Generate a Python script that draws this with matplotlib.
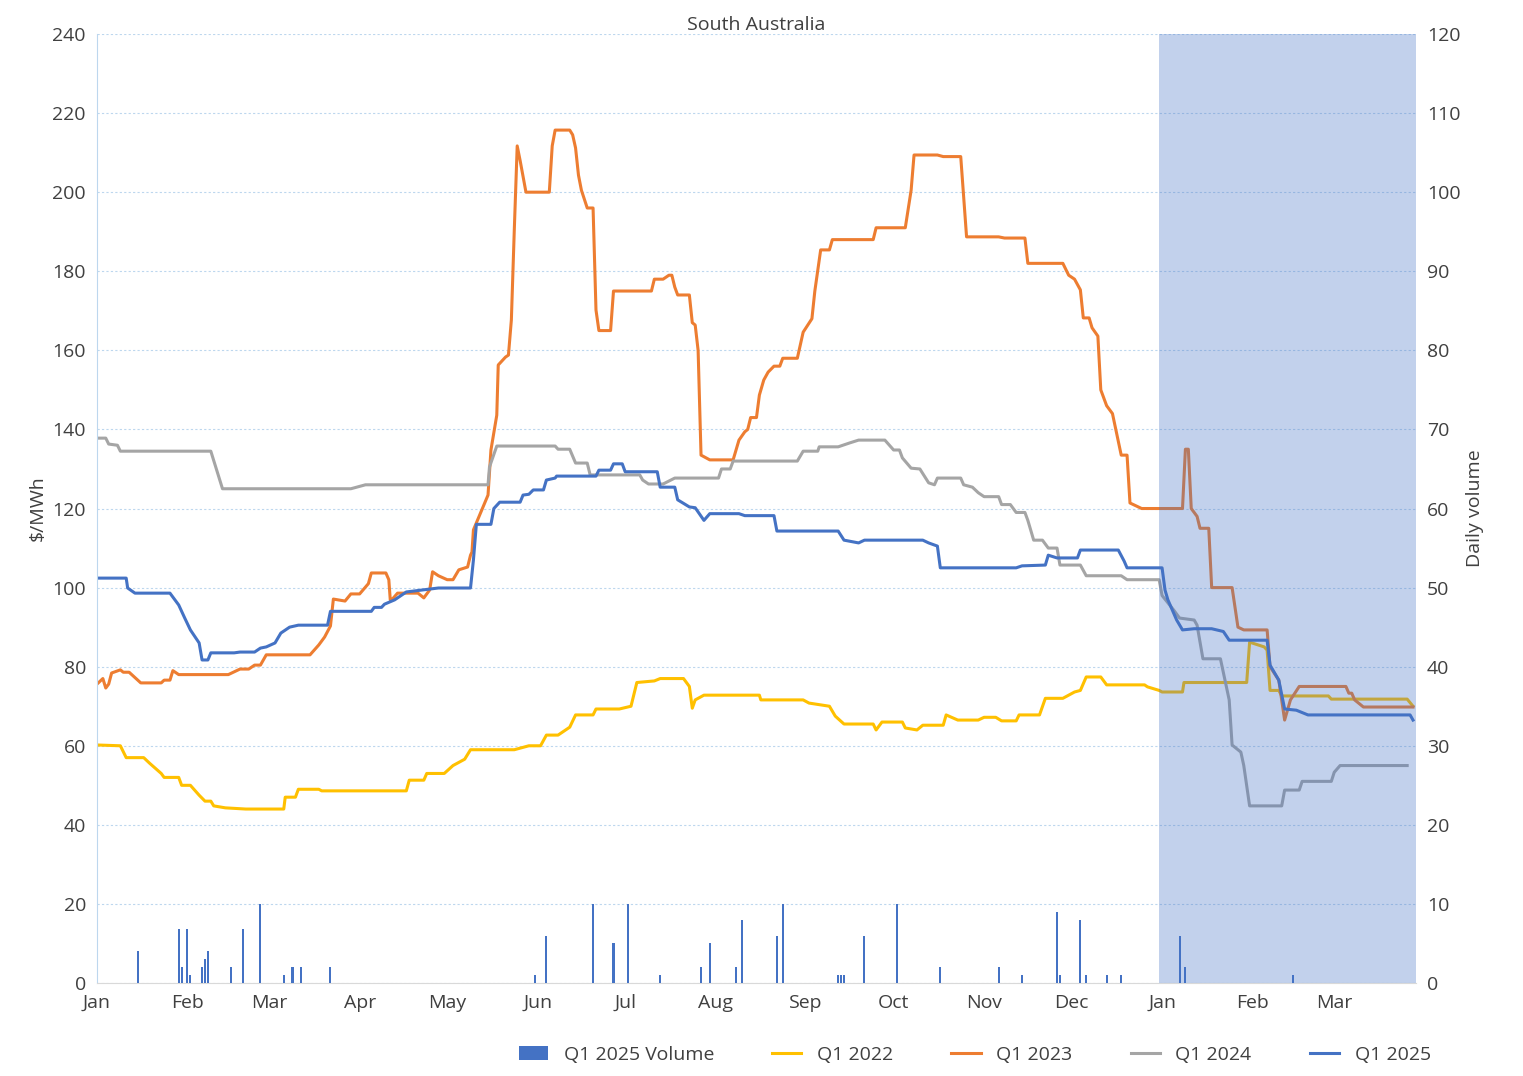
import matplotlib.pyplot as plt
import numpy as np

plt.rcParams['font.family'] = 'Open Sans'

# x in days from Jan 1 (15-month window), y in $/MWh
q22_d = [0,8,10,16,18,22,23,28,29,32,35,37,39,40,44,51,64,64.5,68,69,76,77,106,107,112,113,119,122,126,128,143,148,152,154,158,162,164,170,171,179,183,185,191,193,201,203,204,205,208,227,227.5,242,244,251,253,256,266,267,269,276,277,281,283,290,291,295,302,304,308,310,315,316,323,325,331,335,337,339,344,346,359,360,364,365,372,372.5,394,395,400,401,402,405,406,422,423,449,451]
q22_v = [60.2,60,57,57,55.6,53,52,52,50,50,47.5,46,46,44.8,44.3,44,44,47,47,49,49,48.6,48.6,51.3,51.3,53,53,55,56.6,59,59,60,60,62.7,62.7,64.7,67.8,67.8,69.3,69.3,70,76,76.4,77,77,75,69.5,71.6,72.8,72.8,71.6,71.6,70.8,70,67.5,65.5,65.5,64,66,66,64.5,64,65.2,65.2,67.8,66.5,66.5,67.2,67.2,66.3,66.3,67.8,67.8,72,72,73.6,74,77.4,77.4,75.4,75.4,74.9,74,73.6,73.6,76,76,86.2,85,84.2,74,74,72.6,72.6,71.8,71.8,70]

q23_d = [0,2,3,4,5,8,9,11,15,22,23,25,26,28,45,49,52,54,56,58,73,76,78,80,81,85,87,90,93,94,99,100,100.5,101,103,110,112,114,115,117,120,122,124,127,128,128.5,129,134,135,137,137.5,140,141,142,143,144,145,147,155,156,157,162,163,164,165,166,168,170,171,172,176,177,190,191,194,196,197,198,199,203,204,205,206,207,210,218,220,222,223,224,226,227,228.5,230,232,234,235,240,242,245,246,248,251,252,266,267,277,279,280,288,290,296,298,309,311,318,319,331,333,335,337,338,340,341,343,344,346,348,351,353,354,358,372,373,374,375,377,378,381,382,389,391,393,401,402,405,407,409,412,428,429,430,431,434,451]
q23_v = [75.6,77,74.6,75.6,78.4,79.2,78.6,78.6,75.9,75.9,76.6,76.6,79,78,78,79.4,79.4,80.4,80.4,83,83,85.5,87.5,90.3,97.1,96.6,98.4,98.4,101,103.7,103.7,102,96.9,96.9,98.6,98.6,97.4,99.4,104,103,102,102,104.5,105.2,108.2,109,114.6,123.4,134.8,143.6,156.3,158.3,158.8,167.7,190.4,211.7,208,200,200,211.7,215.7,215.7,214.5,211.2,204.3,200.5,196,196,170.2,165,165,175,175,178,178,179,179,176,174,174,167,166.4,160,133.5,132.3,132.3,137.3,139.4,140,143,143,148.7,152.5,154.5,156,156,158,158,164.6,168,175,185.4,185.4,188,188,191,191,200.5,209.4,209.4,209,209,188.7,188.7,188.4,188.4,182,182,179,178,175.3,168.2,168.2,165.7,163.6,150,146,144,133.5,133.5,121.4,120,120,135,135,120,118,115,115,100,100,90,89.3,89.3,80,76.6,66.5,71.6,75,75,73.3,73.3,71.6,69.8,69.8]

q24_d = [0,3,4,7,8,39,43,87,92,134,134.5,137,157,158,162,164,168,169,186,187,189,194,198,213,214,217,218,240,242,247,247.5,254,258,261,270,273,275,276,279,282,285,287,288,296,297,300,302,304,309,310,313,315,318,319,321,324,326,329,330,337,339,351,353,364,365,369,371,376,377,379,385,388,389,392,393,395,406,407,412,413,423,424,426,449]
q24_v = [137.8,137.8,136.3,136,134.5,134.5,125,125,126,126,130.5,135.8,135.8,135,135,131.5,131.5,128.5,128.5,127.2,126.2,126.2,127.7,127.7,130,130,132,132,134.5,134.5,135.6,135.6,136.6,137.3,137.3,134.8,134.8,132.8,130.2,130,126.5,126,127.7,127.7,126,125.4,124,123,123,121,121,119,119,117,112,112,110,110,105.7,105.7,103,103,102,102,98,94.3,92.3,91.8,90.5,82,82,71.6,60.2,58.4,55,44.8,44.8,48.8,48.8,51,51,53.3,55,55]

q25_d = [0,10,10.5,13,25,28,30,32,35,36,38,39,47,49,54,56,58,61,63,66,69,79,80,94,95,97.5,98.5,102,105,106,117,128,129,130,135,136,138,145,146,148,149.5,153,154,157,157.5,171,172,176,177,180,181,192,193,198,199,203,205,208,210,220,222,232,233,254,256,261,263,283,285,288,289,315,317,325,326,329,336,337,350,352,353,365,366,367,370,372,376,382,386,388,401,402,405,407,411,415,450,451]
q25_v = [102.4,102.4,99.9,98.6,98.6,95.6,92.4,89.3,86,81.7,81.7,83.5,83.5,83.7,83.7,84.7,85,86,88.5,90,90.5,90.5,94,94,95,95,95.8,96.9,98.4,98.9,99.9,99.9,107,116,116,120,121.6,121.6,123.4,123.6,124.7,124.7,127.2,127.7,128.2,128.2,129.7,129.7,131.3,131.3,129.3,129.3,125.4,125.4,122.2,120.4,120.2,117,118.7,118.7,118.2,118.2,114.3,114.3,112,111.3,112,112,111.3,110.5,105,105,105.5,105.7,108.2,107.5,107.5,109.5,109.5,106.7,105,105,99.4,96.9,91.8,89.3,89.6,89.6,88.9,86.7,86.7,80.4,76.6,69.3,69,67.8,67.8,66.5]

vol_d = [14,28,29,31,32,36,37,38,46,50,56,64,67,70,80,150,154,170,177,182,193,207,210,219,221,233,235,254,255,256,263,274,289,309,317,329,330,337,339,346,351,371,373,410]
vol_v = [4,6.8,2,6.8,1,2,3,4,2,6.8,10,1,2,2,2,1,6,10,5,10,1,2,5,2,8,6,10,1,1,1,6,10,2,2,1,9,1,8,1,1,1,6,2,1]

month_pos = [0,31,59,90,120,151,181,212,243,273,304,334,365,396,424]
month_lbl = ['Jan','Feb','Mar','Apr','May','Jun','Jul','Aug','Sep','Oct','Nov','Dec','Jan','Feb','Mar']

fig = plt.figure(figsize=(15.23, 10.76), dpi=100)
ax = fig.add_axes([0.0637, 0.0864, 0.866, 0.882])
ax2 = ax.twinx()

grid_c = '#BDD7EE'
ax.set_ylim(0, 240)
ax.set_yticks(range(0, 241, 20))
ax.grid(axis='y', color=grid_c, linestyle=(0, (2, 2)), linewidth=0.8)
ax.set_axisbelow(True)
ax2.set_ylim(0, 120)
ax2.set_yticks(range(0, 121, 10))

ax2.bar(vol_d, vol_v, width=0.7, color='#4472C4', label='Q1 2025 Volume', zorder=1)
ax.plot(q22_d, q22_v, color='#FFC000', lw=2.2, label='Q1 2022')
ax.plot(q23_d, q23_v, color='#ED7D31', lw=2.2, label='Q1 2023')
ax.plot(q24_d, q24_v, color='#A5A5A5', lw=2.2, label='Q1 2024')
ax.plot(q25_d, q25_v, color='#4472C4', lw=2.2, label='Q1 2025')
ax2.axvspan(364, 452, color='#4472C4', alpha=0.32, lw=0, zorder=5)

ax.set_xlim(0, 452)
ax.set_xticks(month_pos)
ax.set_xticklabels(month_lbl)
for a in (ax, ax2):
    a.tick_params(length=0, labelsize=14, colors='#404040', pad=8)
    for s in a.spines.values():
        s.set_visible(False)
ax.spines['left'].set_visible(True)
ax.spines['left'].set_color(grid_c)
ax.spines['bottom'].set_visible(True)
ax.spines['bottom'].set_color('#D9D9D9')

ax.set_ylabel('$/MWh', fontsize=14, color='#404040')
ax2.set_ylabel('Daily volume', fontsize=14, color='#404040')
ax.set_title('South Australia', fontsize=14, color='#404040', pad=-2)

h2, l2 = ax2.get_legend_handles_labels()
h1, l1 = ax.get_legend_handles_labels()
fig.legend(h2[:1] + h1, l2[:1] + l1, loc='lower center', ncol=5, frameon=False,
           fontsize=14, bbox_to_anchor=(0.64, -0.005), handlelength=1.5,
           columnspacing=3.0, labelcolor='#404040')

fig.savefig('out.png', dpi=100)
